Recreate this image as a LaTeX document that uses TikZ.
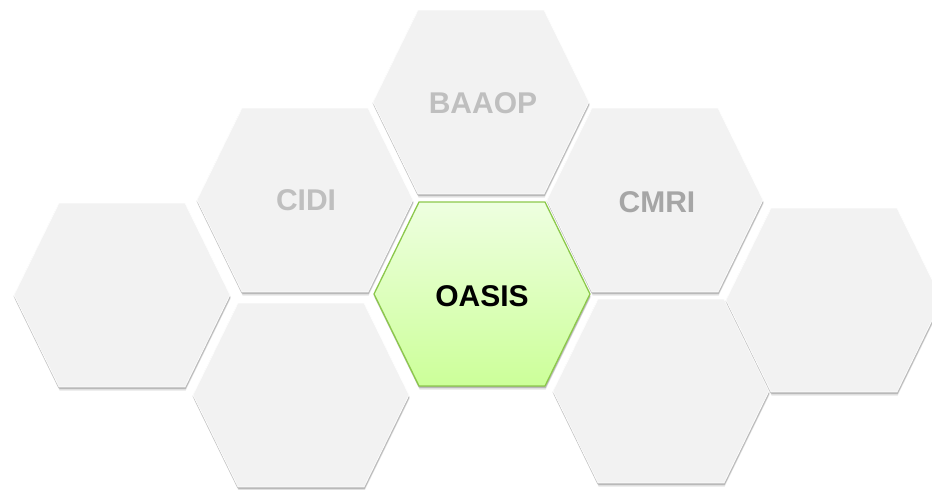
\documentclass[tikz,border=0pt]{standalone}
\usepackage{fontspec}
\setmainfont{Liberation Sans}
\usetikzlibrary{calc}
\definecolor{hexgrey}{HTML}{F2F2F2}
\definecolor{lbl}{HTML}{BFBFBF}
\definecolor{lbldark}{HTML}{A6A6A6}
\definecolor{oasisborder}{HTML}{8CC84B}
\definecolor{oasistop}{HTML}{EEFFE0}
\definecolor{oasisbot}{HTML}{CCFF99}
\newcommand{\hexagonat}[3]{%
  \path[#3] ($(#1,#2)+(-108,0)$) -- ++(45,-92) -- ++(126,0) -- ++(45,92) -- ++(-45,92) -- ++(-126,0) -- cycle;}
\tikzset{
  hexshadow/.style={
    preaction={fill=black, opacity=0.10, transform canvas={xshift=0.6pt, yshift=-3.6pt}},
    preaction={fill=black, opacity=0.10, transform canvas={xshift=-0.6pt, yshift=-1.2pt}},
    preaction={fill=black, opacity=0.18, transform canvas={xshift=0.6pt, yshift=-2.2pt}}},
  greyhex/.style={hexshadow, fill=hexgrey, draw=white, line width=0.6pt},
  greenhex/.style={hexshadow, top color=oasistop, bottom color=oasisbot, draw=oasisborder, line width=1.3pt},
  hexlabel/.style={font=\fontsize{30}{34}\selectfont\bfseries, text=lbl, inner sep=0pt, anchor=center},
}
\begin{document}
\begin{tikzpicture}[x=1pt,y=-1pt]
\useasboundingbox (0,0) rectangle (932,490);
\clip (0,0) rectangle (932,490);
\fill[white] (0,0) rectangle (932,490);
% grey hexagons
\hexagonat{122}{295}{greyhex}
\hexagonat{305}{200}{greyhex}
\hexagonat{301}{395}{greyhex}
\hexagonat{481}{102}{greyhex}
\hexagonat{655}{200}{greyhex}
\hexagonat{661}{391}{greyhex}
\hexagonat{834}{300}{greyhex}
% centre hexagon
\hexagonat{482}{294}{greenhex}
% labels
\node[hexlabel] (baaop) at (483,103) {BAAOP};
\node[hexlabel] (cidi) at (306,200) {CIDI};
\node[hexlabel, text=lbldark] (cmri) at (657,202) {CMRI};
\node[hexlabel, text=black] (oasis) at (482,296) {OASIS};
\end{tikzpicture}
\end{document}
